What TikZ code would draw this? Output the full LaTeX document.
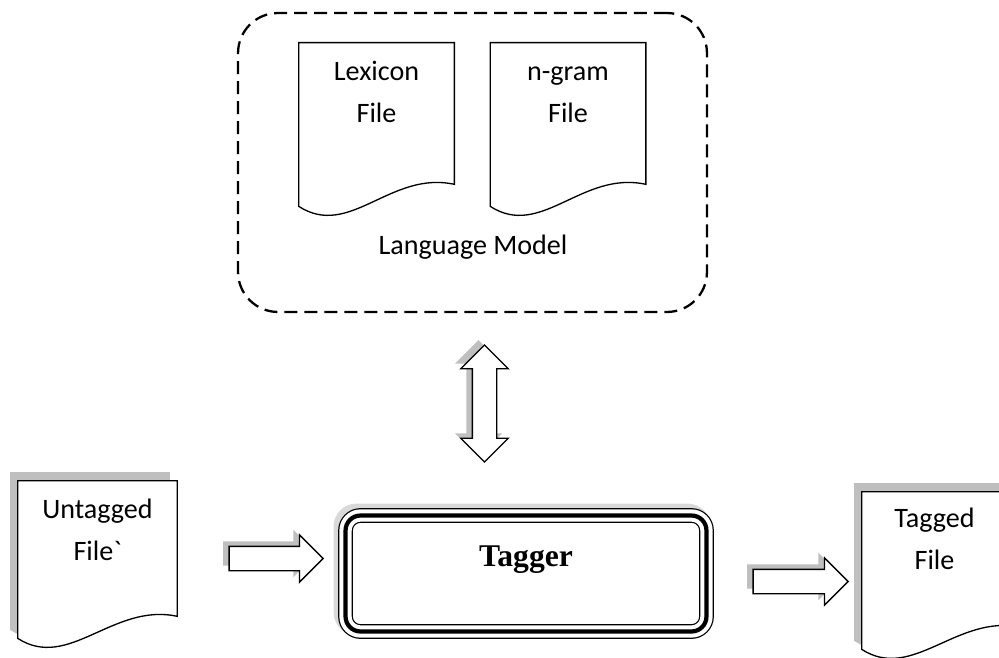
\documentclass[tikz,border=0pt]{standalone}
\usepackage{fontspec}
\setmainfont{Carlito}[Ligatures=TeXOff]
\newfontfamily\taggerfont{Liberation Serif}
\usetikzlibrary{shapes.arrows, positioning}

% outline of a document shape, drawn round the anchors of a node
\newcommand{\docoutline}[2][]{%
  \draw[docline, #1] (#2.north west) -- (#2.north east) -- (#2.south east)
    .. controls +(-64,-14) and +(51,33) .. ([yshift=-0.44cm]#2.south west) -- cycle;}

\begin{document}
\begin{tikzpicture}[x=0.02cm, y=-0.02cm]
	\tikzstyle{docbody} = [rectangle, minimum width=3.1cm, minimum height=2.82cm, inner sep=0pt]
	\tikzstyle{docline} = [draw=black, fill=white, line width=0.75pt]
	\tikzstyle{docshadow} = [preaction={fill=gray!50, transform canvas={xshift=-0.15cm, yshift=0.17cm}}]
	\tikzstyle{doctext} = [font=\fontsize{16}{24.4}\selectfont, align=center, inner sep=0pt]
	\tikzstyle{lmbox} = [rectangle, draw=black, line width=1.3pt, dash pattern=on 0.26cm off 0.14cm, rounded corners=0.8cm, minimum width=9.38cm, minimum height=5.98cm]
	\tikzstyle{taggerbox} = [rectangle, rounded corners=0.3cm, minimum width=7.22cm, minimum height=2.32cm, fill=white, draw=black, line width=0.7pt, double=white, double distance=7pt, preaction={draw=gray!30, line width=9pt, transform canvas={xshift=-0.08cm, yshift=0.08cm}}, postaction={draw=black, line width=2.4pt}]
	\tikzstyle{blockarrow} = [single arrow, draw=black, fill=white, line width=0.75pt, inner xsep=0pt, inner ysep=0.23cm, single arrow head extend=0.23cm, single arrow tip angle=90, preaction={fill=gray!50, transform canvas={xshift=-0.12cm, yshift=0.1cm}}]
	\tikzstyle{twoarrow} = [double arrow, draw=black, fill=white, line width=0.75pt, inner xsep=0pt, inner ysep=0.23cm, double arrow head extend=0.23cm, double arrow tip angle=90, minimum height=2.34cm, rotate=90, preaction={fill=gray!50, transform canvas={xshift=-0.12cm, yshift=0.1cm}}]

	\useasboundingbox (0,0) rectangle (999,658);
	\clip (0,0) rectangle (999,658);

	% language model
	\node[lmbox] (langmodel) at (472.5,162.5) {};

	\node[docbody] (lexicon) at (376.5,113.5) {};
	\docoutline{lexicon}
	\node[doctext, below=0.14cm of lexicon.north] (lexicontext) {\strut Lexicon\\File};

	\node[docbody] (ngram) at (568,113.5) {};
	\docoutline{ngram}
	\node[doctext, below=0.14cm of ngram.north] (ngramtext) {\strut n-gram\\File};

	\node[doctext] (lmlabel) at (473,247) {Language Model};

	\node[twoarrow] (lmarrow) at (484.5,403.5) {};

	% tagger
	\node[taggerbox] (tagger) at (526,573.5) {};
	\node[font=\taggerfont\bfseries\fontsize{18}{21}\selectfont] (taggertext) at ([yshift=0.28cm]tagger.center) {Tagger};

	% input file
	\node[docbody, minimum width=3.18cm, minimum height=2.7cm] (untagged) at (97.5,548.5) {};
	\docoutline[docshadow]{untagged}
	\node[doctext, below=0.14cm of untagged.north] (untaggedtext) {\strut Untagged\\File`};

	\node[blockarrow, minimum height=1.88cm] (inarrow) at (270,558.5) {};

	% output file
	\node[blockarrow, minimum height=1.9cm] (outarrow) at (794.5,581.5) {};

	\node[docbody, minimum width=3.18cm, minimum height=2.7cm] (tagged) at (941.5,559.5) {};
	\docoutline[docshadow]{tagged}
	\node[doctext, below=0.1cm of tagged.north, xshift=-0.14cm] (taggedtext) {\strut Tagged\\File};
\end{tikzpicture}
\end{document}
